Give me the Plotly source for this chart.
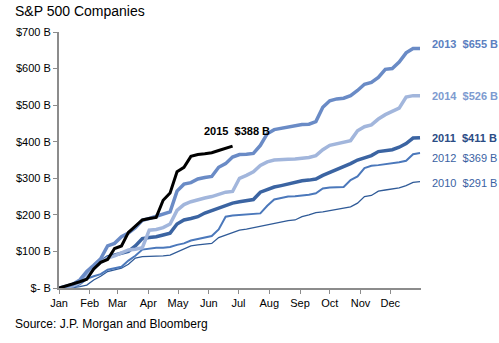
import plotly.graph_objects as go

# ---- data (values in $ billions, weekly cumulative) ----
weeks = list(range(53))
weeks_2015 = list(range(26))

v2013 = [0, 4, 10, 22, 45, 62, 80, 115, 122, 140, 150, 165, 185, 190, 196, 200, 208, 265, 284, 288,
         298, 302, 305, 330, 340, 358, 365, 366, 368, 390, 422, 433, 437, 440, 444, 447, 448, 455,
         494, 512, 517, 519, 526, 540, 557, 562, 576, 598, 600, 618, 643, 655, 655]
v2014 = [0, 2, 6, 15, 35, 55, 70, 82, 88, 95, 104, 106, 110, 158, 160, 165, 175, 212, 228, 236,
         242, 246, 250, 256, 262, 264, 300, 308, 318, 335, 345, 350, 352, 352, 353, 354, 357, 362,
         378, 390, 395, 398, 403, 430, 441, 446, 462, 474, 482, 492, 522, 526, 526]
v2011 = [0, 1, 5, 15, 35, 55, 72, 85, 90, 95, 100, 115, 135, 138, 140, 145, 150, 175, 186, 190,
         195, 205, 212, 220, 225, 232, 236, 240, 242, 262, 270, 276, 280, 284, 290, 293, 295, 298,
         308, 316, 322, 330, 340, 350, 356, 362, 373, 376, 378, 385, 395, 410, 411]
v2012 = [0, 1, 3, 10, 25, 32, 38, 50, 55, 58, 75, 88, 105, 108, 110, 110, 112, 118, 122, 130,
         134, 138, 142, 160, 195, 198, 200, 201, 202, 204, 225, 242, 246, 250, 251, 252, 255, 259,
         272, 275, 276, 276, 295, 305, 328, 334, 336, 338, 340, 344, 348, 366, 369]
v2010 = [0, 0, 1, 4, 8, 22, 32, 45, 50, 54, 65, 82, 86, 86, 86, 88, 90, 98, 108, 115,
         118, 120, 122, 138, 145, 150, 158, 161, 165, 168, 174, 178, 182, 184, 186, 195, 200, 206,
         208, 212, 215, 218, 222, 232, 250, 253, 265, 268, 270, 274, 280, 289, 291]
v2015 = [0, 5, 10, 17, 24, 52, 70, 78, 108, 115, 152, 170, 186, 190, 193, 240, 260, 318, 330, 360,
         365, 367, 370, 376, 382, 388]

month_labels = ["Jan", "Feb", "Mar", "Apr", "May", "Jun", "Jul", "Aug", "Sep", "Oct", "Nov", "Dec"]
month_start_days = [0, 31, 59, 90, 120, 151, 181, 212, 243, 273, 304, 334]
y_ticks = [0, 100, 200, 300, 400, 500, 600, 700]
y_tick_labels = ["$- B", "$100 B", "$200 B", "$300 B", "$400 B", "$500 B", "$600 B", "$700 B"]

series = [
    # name, x, y, line colour, width, label colour, bold, label yshift
    ("2010", weeks, v2010, "#2f5a97", 1.3, "#3a62a3", False, -1),
    ("2012", weeks, v2012, "#4b78bb", 2.0, "#3a62a3", False, -5),
    ("2011", weeks, v2011, "#3b64a2", 3.5, "#2a4c85", True, 0),
    ("2014", weeks, v2014, "#a2b6dc", 3.5, "#7d9bd0", True, 0),
    ("2013", weeks, v2013, "#6a8bc6", 3.5, "#5b80c0", True, 4),
    ("2015", weeks_2015, v2015, "#000000", 3.0, "#000000", True, 0),
]

FONT = "Liberation Sans, Arial, sans-serif"

fig = go.Figure()
annotations = []
for name, xs, ys, col, w, lcol, bold, yshift in series:
    fig.add_trace(go.Scatter(x=xs, y=ys, mode="lines", name=name,
                             line=dict(color=col, width=w), hoverinfo="skip"))
    txt = f"{name}  ${ys[-1]} B"
    if bold:
        txt = f"<b>{txt}</b>"
    if name == "2015":
        annotations.append(dict(x=xs[-1], y=ys[-1], xref="x", yref="y", text=txt,
                                showarrow=False, xanchor="center", yanchor="middle",
                                xshift=4, yshift=15,
                                font=dict(family=FONT, size=11, color=lcol)))
    else:
        annotations.append(dict(x=1.025, y=ys[-1], xref="paper", yref="y", text=txt,
                                showarrow=False, xanchor="left", yanchor="middle",
                                yshift=yshift,
                                font=dict(family=FONT, size=11, color=lcol)))

annotations.append(dict(x=13, y=12, xref="pixel", yref="pixel", text="S&P 500 Companies",
                        showarrow=False))
annotations = annotations[:-1]
annotations.append(dict(x=-0.127, y=1.083, xref="paper", yref="paper",
                        text="S&P 500 Companies", showarrow=False,
                        xanchor="left", yanchor="middle",
                        font=dict(family=FONT, size=14, color="#000000")))
annotations.append(dict(x=-0.127, y=-0.14, xref="paper", yref="paper",
                        text="Source: J.P. Morgan and Bloomberg", showarrow=False,
                        xanchor="left", yanchor="middle",
                        font=dict(family=FONT, size=12, color="#000000")))

fig.update_layout(
    width=499, height=343,
    margin=dict(l=59, r=78, t=32, b=55),
    paper_bgcolor="white", plot_bgcolor="white",
    showlegend=False,
    annotations=annotations,
    font=dict(family=FONT, size=11, color="#000000"),
)
fig.update_xaxes(
    range=[0, 365 / 7], tickmode="array",
    tickvals=[d / 7 for d in month_start_days], ticktext=month_labels,
    showgrid=False, zeroline=False,
    showline=True, linecolor="#8c8c8c", linewidth=2,
    ticks="outside", ticklen=4, tickcolor="#8c8c8c", tickwidth=1,
    tickfont=dict(family=FONT, size=11, color="#000000"),
)
fig.update_yaxes(
    range=[0, 700], tickmode="array", tickvals=y_ticks, ticktext=y_tick_labels,
    showgrid=False, zeroline=False,
    showline=True, linecolor="#8c8c8c", linewidth=2,
    ticks="outside", ticklen=4, tickcolor="#8c8c8c", tickwidth=1,
    tickfont=dict(family=FONT, size=11, color="#000000"),
)

fig.write_html("out.html")
